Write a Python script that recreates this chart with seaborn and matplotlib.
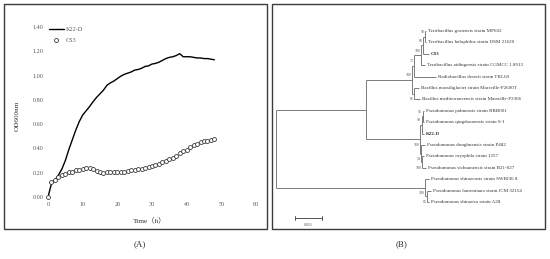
import numpy as np
import pandas as pd
import matplotlib
matplotlib.use('Agg')
import matplotlib.pyplot as plt
import seaborn as sns
from matplotlib.lines import Line2D
from matplotlib.patches import Rectangle
from matplotlib.collections import LineCollection

# (A) growth curves, OD600 read every hour
hours = list(range(0, 49))
k22d_od = [0.00, 0.11, 0.14, 0.18, 0.23, 0.30, 0.39, 0.47, 0.55, 0.62,
           0.675, 0.71, 0.745, 0.785, 0.82, 0.85, 0.88, 0.92, 0.94, 0.955,
           0.975, 0.995, 1.01, 1.02, 1.03, 1.045, 1.05, 1.06, 1.075, 1.08,
           1.095, 1.10, 1.11, 1.125, 1.14, 1.15, 1.155, 1.165, 1.18, 1.155,
           1.155, 1.155, 1.15, 1.145, 1.145, 1.14, 1.14, 1.135, 1.13]
cs3_od = [0.00, 0.12, 0.14, 0.165, 0.18, 0.19, 0.205, 0.21, 0.22, 0.225,
          0.23, 0.24, 0.24, 0.23, 0.215, 0.205, 0.20, 0.205, 0.21, 0.21,
          0.21, 0.21, 0.21, 0.215, 0.22, 0.225, 0.23, 0.23, 0.24, 0.245,
          0.255, 0.265, 0.275, 0.285, 0.295, 0.31, 0.32, 0.34, 0.36, 0.375,
          0.39, 0.41, 0.43, 0.44, 0.455, 0.46, 0.465, 0.47, 0.48]
x_ticks = [0, 10, 20, 30, 40, 50, 60]
y_ticks = [0.0, 0.2, 0.4, 0.6, 0.8, 1.0, 1.2, 1.4]

# (B) neighbour-joining tree, branch lengths in substitutions/site
# leaf: (name, length); node: ([children], length, bootstrap, label side)
terri = ([([("Terribacillus goriensis strain MP602", 0.0019),
            ("Terribacillus halophilus strain DSM 21620", 0.0019)], 0.0037, "58", "a"),
          ("CS3", 0.0111)], 0.0037, "68", "a")
terri = ([terri, ("Terribacillus aidingensis strain CGMCC 1.8913", 0.0074)], 0.0130, "100", "a")
bacillus = ([([terri, ("Radiobacillus deserti strain TKL69", 0.0407)], 0.0037, "71", "a"),
             ([("Bacillus massiliglaciei strain Marseille-P2600T", 0.0093),
               ("Bacillus mediterraneensis strain Marseille-P2366", 0.0111)], 0.0037, "86", "b")],
            0.0852, "100", "a")
putida = ([([([("Pseudomonas palmensis strain BBB001", 0.0028),
               ("Pseudomonas qingdaonensis strain S-1", 0.0028)], 0.0019, "95", "a"),
             ("K22-D", 0.0046)], 0.0028, "99", "a"),
           ([("Pseudomonas donghuensis strain P482", 0.0074),
             ([("Pseudomonas oryzphila strain 1257", 0.0037),
               ("Pseudomonas sichuanensis strain B21-027", 0.0074)], 0.0019, "100", "b")],
            0.0019, "54", "b")], 0.1000, "100", "b")
outgroup = ([("Pseudomonas shirazensis strain SWRI36 8", 0.0074),
             ([("Pseudomonas laurentiana strain JCM 32154", 0.0074),
               ("Pseudomonas shirazica strain A28", 0.0037)], 0.0037, "65", "b")],
            0.2760, "100", "b")
tree = ([([bacillus, putida], 0.1667, "", "a"), outgroup], 0.0, "", "a")
bold_leaves = ["CS3", "K22-D"]
scale_len = 0.05


def layout(node, x0, segs, leaves, nodes):
    if isinstance(node[0], str):
        name, bl = node
        y = len(leaves)
        leaves.append((name, x0 + bl, y))
        segs.append([(x0, y), (x0 + bl, y)])
        return y
    kids, bl, boot, side = node
    x = x0 + bl
    ys = [layout(k, x, segs, leaves, nodes) for k in kids]
    y = (ys[0] + ys[-1]) / 2
    segs.append([(x, ys[0]), (x, ys[-1])])
    segs.append([(x0, y), (x, y)])
    nodes.append((boot, side, x, y))
    return y


sns.set_style('white')
plt.rcParams['font.family'] = ['Liberation Serif', 'Noto Sans CJK SC']

W, H = 550, 259
fig = plt.figure(figsize=(5.5, 2.59), dpi=100)
fig.patch.set_facecolor('white')

for x0, x1 in [(4, 267), (272, 545)]:
    fig.patches.append(Rectangle((x0 / W, 30 / H), (x1 - x0) / W, 225 / H,
                                 transform=fig.transFigure, fill=False,
                                 ec='#3c3c3c', lw=1.0))
fig.text(140 / W, 1 - 244 / H, '(A)', ha='center', va='center', fontsize=6.5, color='#333333')
fig.text(402 / W, 1 - 244 / H, '(B)', ha='center', va='center', fontsize=6.5, color='#333333')

# ---- panel A ----
ax = fig.add_axes([48 / W, 62 / H, 208 / W, 170 / H])
sns.lineplot(x=hours, y=k22d_od, ax=ax, color='black', lw=1.0)
sns.scatterplot(x=hours, y=cs3_od, ax=ax, marker='o', s=8, facecolor='white',
                edgecolor='#3a3a3a', linewidth=0.6, clip_on=False, zorder=3)
ax.set_xlim(0, 60)
ax.set_ylim(0, 1.4)
ax.set_xticks(x_ticks)
ax.set_yticks(y_ticks)
ax.set_yticklabels(['%.2f' % v for v in y_ticks])
ax.tick_params(length=0, labelsize=4.4, labelcolor='#595959', pad=3.5)
for s in ax.spines.values():
    s.set_visible(False)
ax.set_xlabel('Time（h）', fontsize=5.2, color='#333333')
ax.set_ylabel('OD600nm', fontsize=5.2, color='#333333')
ax.xaxis.set_label_coords(0.49, -0.112)
ax.yaxis.set_label_coords(-0.135, 0.48)
handles = [Line2D([], [], color='black', lw=1.0),
           Line2D([], [], marker='o', ls='none', mfc='white', mec='#3a3a3a', ms=2.9, mew=0.6)]
ax.legend(handles, ['K22-D', 'CS3'], loc='upper left', bbox_to_anchor=(0.005, 1.0),
          frameon=False, fontsize=4.4, labelcolor='#595959', handlelength=2.4,
          handletextpad=0.3, labelspacing=0.95, borderpad=0, borderaxespad=0)

# ---- panel B ----
ax2 = fig.add_axes([272 / W, 30 / H, 273 / W, 225 / H])
segs, leaves, nodes = [], [], []
layout(tree, 0.0, segs, leaves, nodes)
ax2.add_collection(LineCollection(segs, colors='#7a7a7a', linewidths=0.7))
for name, x, y in leaves:
    ax2.text(x + 0.0035, y, name, ha='left', va='center', fontsize=3.6, color='#333333',
             fontweight='bold' if name in bold_leaves else 'normal')
for boot, side, x, y in nodes:
    if boot:
        dy = -0.4 if side == 'a' else 0.5
        ax2.text(x - 0.0012, y + dy, boot, ha='right', va='center', fontsize=2.8, color='#555555')
sx, sy = 0.0352, 16.4
ax2.plot([sx, sx + scale_len], [sy, sy], color='#555555', lw=0.7)
ax2.plot([sx, sx], [sy - 0.15, sy + 0.15], color='#555555', lw=0.7)
ax2.plot([sx + scale_len, sx + scale_len], [sy - 0.15, sy + 0.15], color='#555555', lw=0.7)
ax2.text(sx + scale_len / 2, sy + 0.6, '%.3f' % scale_len, ha='center', va='center',
         fontsize=2.8, color='#555555')
ax2.set_xlim(-0.0074, 0.498)
ax2.set_ylim(17.37, -2.37)
ax2.axis('off')

fig.savefig('out.png', dpi=100, facecolor='white')
